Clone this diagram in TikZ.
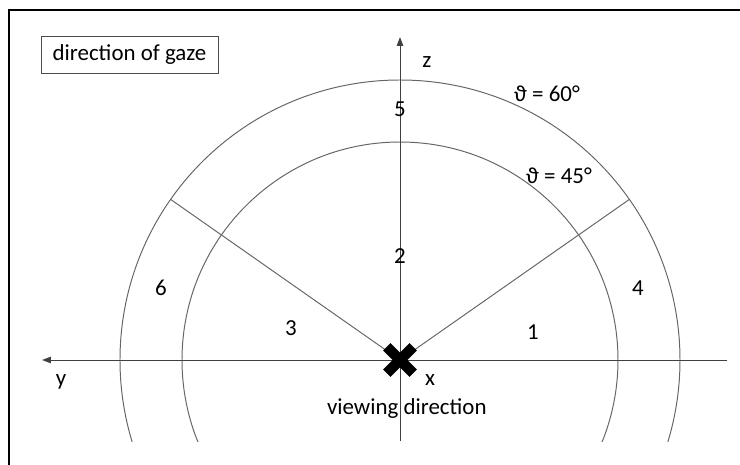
\documentclass[tikz,border=0pt]{standalone}
\usepackage{fontspec}
\setmainfont{Carlito}
\usepackage{tikz}
\usetikzlibrary{arrows.meta,positioning,calc}

\begin{document}
\begin{tikzpicture}[
    ring/.style={draw=black!60, line width=0.7pt},
    axis/.style={draw=black!75, line width=0.7pt, -{Triangle[length=2.2mm,width=1.6mm]}},
    ray/.style={draw=black!60, line width=0.7pt},
    lbl/.style={inner sep=0pt, font=\fontsize{16.3}{18}\selectfont},
    legend/.style={draw=black!70, line width=0.7pt, minimum width=4.425cm, minimum height=0.925cm, inner sep=0pt, font=\fontsize{16.3}{18}\selectfont}
]
\useasboundingbox (-10,-2.6) rectangle (8.5,9);
% outer frame (cut by the page)
\draw[line width=1.4pt] (-9.775,-2.7) -- (-9.775,8.75) -- (8.6,8.75);

\coordinate (o) at (0,0);
\coordinate (zbot) at (0,-2.025);
\coordinate (ztop) at (0,8.075);
\coordinate (yend) at (-8.95,0);
\coordinate (ystart) at (8.175,0);

% circles of constant theta
\begin{scope}
    \clip (-10,-2.025) rectangle (8.5,9);
    \draw[ring] (o) circle (7);
    \draw[ring] (o) circle (5.45);
\end{scope}

% sector borders
\draw[ray] (o) -- (145:7);
\draw[ray] (o) -- (35:7);

% axes
\draw[axis] (zbot) -- (ztop);
\draw[axis] (ystart) -- (yend);

% viewing direction mark
\draw[line width=0.26cm] (-0.33,-0.33) -- (0.33,0.33);
\draw[line width=0.26cm] (-0.33,0.33) -- (0.33,-0.33);

\node[legend] (gaze) at (-6.7625,7.6375) {direction of gaze};

\node[lbl] (zl) at (0.675,7.45) {z};
\node[lbl] (yl) at (-8.475,-0.55) {y};
\node[lbl] (xl) at (0.75,-0.5) {x};
\node[lbl] (view) at (0.17,-1.225) {viewing direction};
\node[lbl] (t60) at (3.675,6.65) {ϑ = 60°};
\node[lbl] (t45) at (3.975,4.6) {ϑ = 45°};

\node[lbl] (s5) at (0,6.275) {5};
\node[lbl] (s2) at (0,2.6) {2};
\node[lbl] (s6) at (-5.975,1.8) {6};
\node[lbl] (s3) at (-2.725,0.8) {3};
\node[lbl] (s1) at (3.325,0.7) {1};
\node[lbl] (s4) at (5.95,1.8) {4};
\end{tikzpicture}
\end{document}
